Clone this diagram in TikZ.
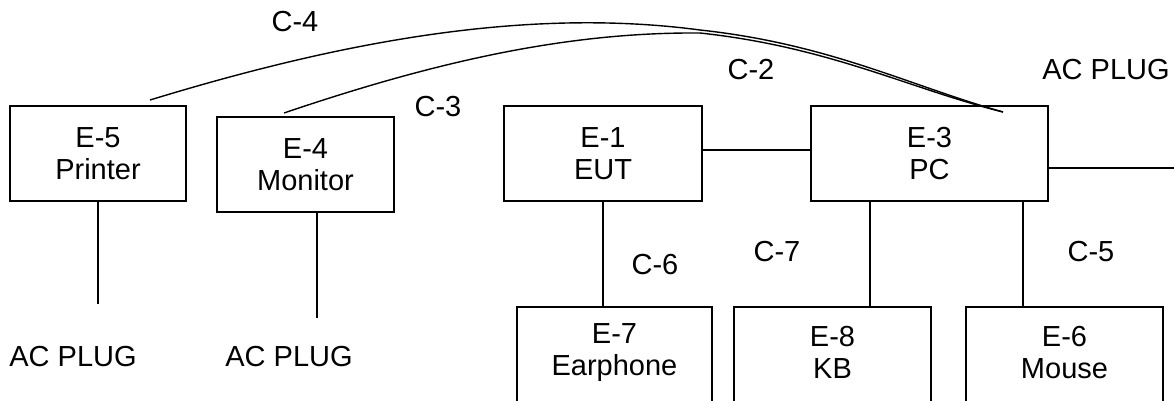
\documentclass[tikz,border=0pt]{standalone}
\usepackage{fontspec}
\setmainfont{Liberation Sans}
\usetikzlibrary{calc}
\begin{document}
\begin{tikzpicture}[x=1pt,y=-1pt,
  box/.style={draw,line width=1.4pt,inner sep=0pt,outer sep=0pt,align=center,font=\fontsize{29}{32}\selectfont},
  txt/.style={inner sep=0pt,align=center,font=\fontsize{29}{32}\selectfont},
  wire/.style={line width=1.4pt}]
\clip (0,0) rectangle (1174,400);
\fill[white] (0,0) rectangle (1174,400);
% top row
\node[box,minimum width=176pt,minimum height=95pt] (e5) at (98,153.5) {E-5\\Printer};
\node[box,minimum width=177pt,minimum height=95pt] (e4) at (305.5,164.5) {E-4\\Monitor};
\node[box,minimum width=198pt,minimum height=95pt] (e1) at (603,153.5) {E-1\\EUT};
\node[box,minimum width=237pt,minimum height=95pt] (e3) at (929.5,153.5) {E-3\\PC};
% bottom row (extend past the lower edge)
\node[box,minimum width=195pt,minimum height=120pt,anchor=north] (e7) at (614.5,307) {};
\node[box,minimum width=197pt,minimum height=120pt,anchor=north] (e8) at (832.5,307) {};
\node[box,minimum width=197pt,minimum height=120pt,anchor=north] (e6) at (1064.5,307) {};
\node[txt] (t7) at (614.5,352.5) {E-7\\Earphone};
\node[txt] (t8) at (832.5,352.5) {E-8\\KB};
\node[txt] (t6) at (1064.5,352.5) {E-6\\Mouse};
% labels
\node[txt] (l4) at (295,22) {C-4};
\node[txt] (l3) at (438,107) {C-3};
\node[txt] (l2) at (751,70) {C-2};
\node[txt] (acr) at (1106,70) {AC PLUG};
\node[txt] (l6) at (655,265) {C-6};
\node[txt] (l7) at (777,252) {C-7};
\node[txt] (l5) at (1091,252) {C-5};
\node[txt] (ac5) at (73,357) {AC PLUG};
\node[txt] (ac4) at (289,357) {AC PLUG};
% free ends
\coordinate (p5) at (98,304);
\coordinate (p4) at (317,318);
\coordinate (pr) at (1180,168);
\coordinate (c4s) at ($(e5.north)+(52,-6)$);
\coordinate (c3s) at ($(e4.north)+(-21.5,-4)$);
\coordinate (ce) at ($(e3.north)+(73.5,6)$);
% connectors
\draw[wire] (e5.south) -- (p5);
\draw[wire] ([xshift=11.5pt]e4.south) -- (p4);
\draw[wire] ([yshift=3.5pt]e1.east) -- ([yshift=3.5pt]e1.east -| e3.west);
\draw[wire] (e3.east |- pr) -- (pr);
\draw[wire] (e1.south) -- (e1.south |- e7.north);
\draw[wire] ([xshift=59pt]e3.south west) -- ([xshift=59pt]e3.south west |- e8.north);
\draw[wire] ([xshift=212pt]e3.south west) -- ([xshift=212pt]e3.south west |- e6.north);
\draw[wire] (c4s) .. controls (330,45) and (520,6) .. (700,30) .. controls (830,44) and (910,86) .. (ce);
\draw[wire] (c3s) .. controls (440,60) and (570,32) .. (700,33) .. controls (830,47) and (910,89) .. (ce);
\end{tikzpicture}
\end{document}
